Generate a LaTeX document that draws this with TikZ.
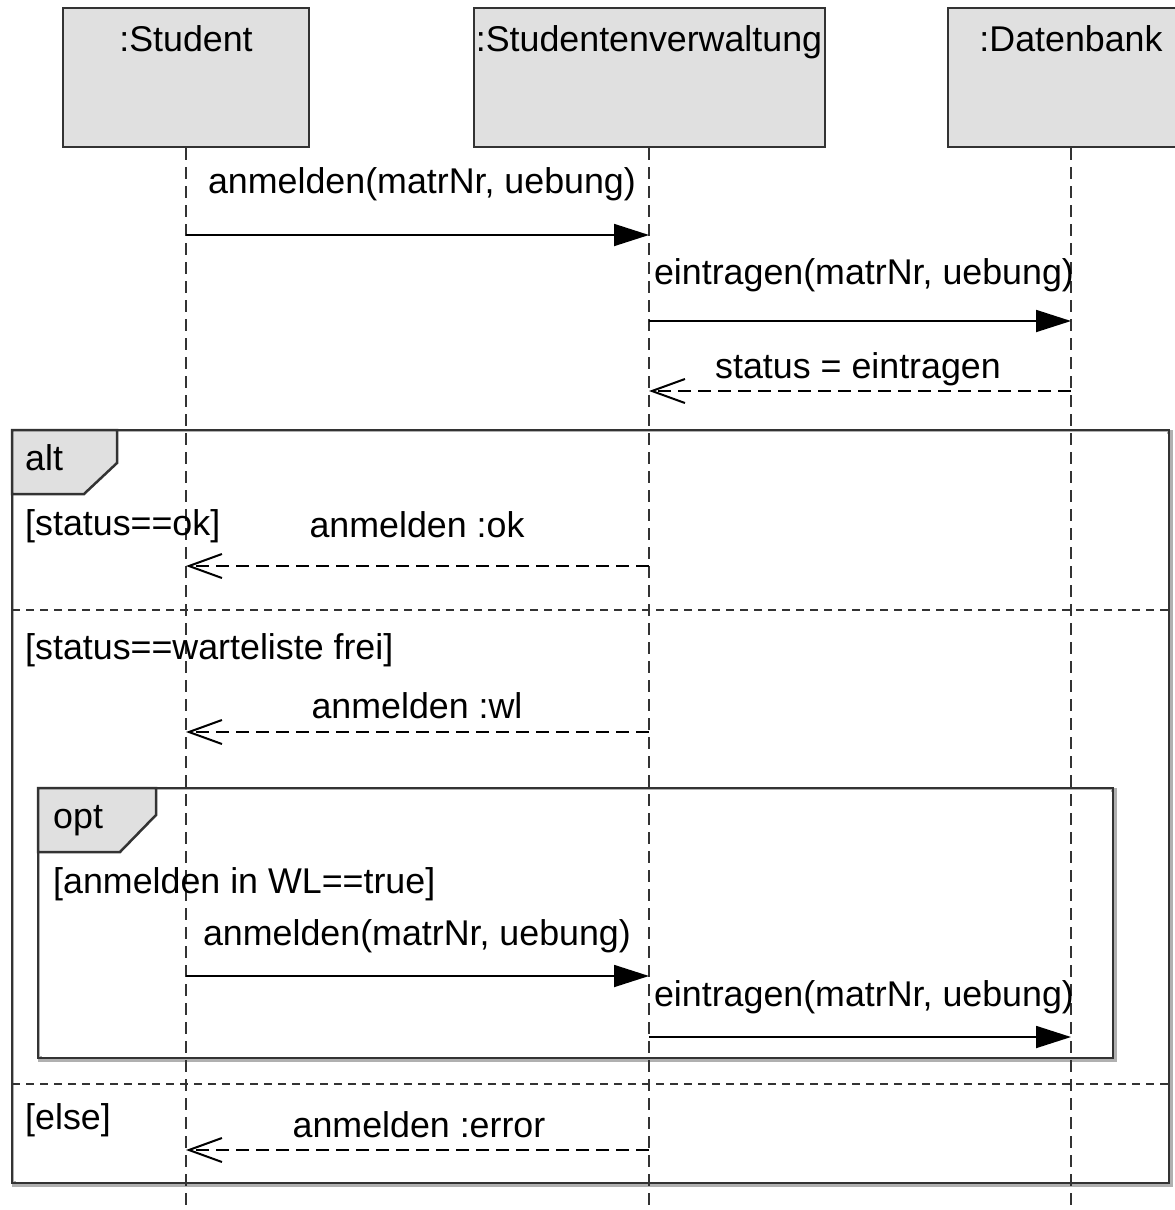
\documentclass[tikz,border=0pt]{standalone}
\usepackage{fontspec}
\setmainfont{Liberation Sans}
\usetikzlibrary{arrows.meta,positioning,backgrounds}
\definecolor{headgray}{HTML}{E0E0E0}
\definecolor{linegray}{HTML}{333333}
\definecolor{shadowgray}{HTML}{B0B0B0}
\newcommand{\fsize}{\fontsize{35.8}{43}\selectfont}
\newcommand{\lw}{2pt}

\begin{document}
\begin{tikzpicture}[x=1pt, y=-1pt,
    lifehead/.style={draw=linegray, line width=\lw, fill=headgray, minimum height=139pt, inner sep=0pt},
    lifeline/.style={draw=linegray, line width=\lw, dash pattern=on 12pt off 7pt},
    msgtext/.style={font=\fsize, inner sep=0pt, anchor=base},
    guardtext/.style={font=\fsize, inner sep=0pt, anchor=base west},
    call/.style={draw=black, line width=1.8pt, -{Triangle[length=35pt,width=22pt]}},
    reply/.style={draw=black, line width=1.8pt, dash pattern=on 13pt off 7pt, -{Straight Barb[length=33pt,width=24pt,line width=2pt]}},
    frame/.style={draw=linegray, line width=2.5pt, preaction={draw=shadowgray, line width=3.5pt, transform canvas={xshift=1.8pt,yshift=-1.8pt}}},
    fragtag/.style={draw=linegray, line width=2.5pt, fill=headgray, line join=miter},
    separator/.style={draw=linegray, line width=1.6pt, dash pattern=on 8pt off 6pt}]

    \clip (0,0) rectangle (1175,1210);

    %Lifeline heads
    \foreach \name/\x/\w/\txt in {student/186/246/{:Student}, verwaltung/649/351/{:Studentenverwaltung}, datenbank/1071/246/{:Datenbank}} {
        \node[lifehead, minimum width=\w pt] (\name) at (\x,77.5) {};
        \node[msgtext] (\name label) at (\x,51) {\txt};
        \coordinate (\name end) at (\x,1210);
    }

    %Message end points on the lifelines
    \foreach \lane/\x in {s/186, v/649, d/1071} {
        \foreach \row/\y in {1/235, 2/321, 3/391, 4/566, 5/732, 6/976, 7/1037, 8/1150} {
            \coordinate (\lane\row) at (\x,\y);
        }
    }

    %Frames
    \draw[frame] (12,430) rectangle (1169,1183);
    \fill[white] (14,432) rectangle (1167,1181);
    \draw[frame] (38,788) rectangle (1113,1058);
    \fill[white] (40,790) rectangle (1111,1056);

    %Lifelines
    \foreach \name in {student, verwaltung, datenbank} {
        \draw[lifeline] (\name.south) -- (\name end);
    }

    %Frame tags
    \draw[fragtag] (12,430) -- (117,430) -- (117,463) -- (84,494) -- (12,494) -- cycle;
    \node[guardtext] (alttag) at (25,470) {alt};
    \draw[fragtag] (38,788) -- (156,788) -- (156,815) -- (120,852) -- (38,852) -- cycle;
    \node[guardtext] (opttag) at (53,828) {opt};

    %Operand separators
    \coordinate (sep1w) at (12,610);
    \coordinate (sep1e) at (1169,610);
    \coordinate (sep2w) at (12,1084);
    \coordinate (sep2e) at (1169,1084);
    \draw[separator] (sep1w) -- (sep1e);
    \draw[separator] (sep2w) -- (sep2e);

    %Guards
    \node[guardtext] (guardok) at (25,535) {[status==ok]};
    \node[guardtext] (guardwl) at (25,659) {[status==warteliste frei]};
    \node[guardtext] (guardtrue) at (53,893) {[anmelden in WL==true]};
    \node[guardtext] (guardelse) at (25,1129) {[else]};

    %Messages
    \node[msgtext] (m1) at (422,193) {anmelden(matrNr, uebung)};
    \draw[call] (s1) -- (v1);
    \node[msgtext] (m2) at (864,284) {eintragen(matrNr, uebung)};
    \draw[call] (v2) -- (d2);
    \node[msgtext] (m3) at (858,378) {status = eintragen};
    \draw[reply] (d3) -- (v3);
    \node[msgtext] (m4) at (417,537) {anmelden :ok};
    \draw[reply] (v4) -- (s4);
    \node[msgtext] (m5) at (417,718) {anmelden :wl};
    \draw[reply] (v5) -- (s5);
    \node[msgtext] (m6) at (417,945) {anmelden(matrNr, uebung)};
    \draw[call] (s6) -- (v6);
    \node[msgtext] (m7) at (864,1006) {eintragen(matrNr, uebung)};
    \draw[call] (v7) -- (d7);
    \node[msgtext] (m8) at (419,1137) {anmelden :error};
    \draw[reply] (v8) -- (s8);
\end{tikzpicture}
\end{document}
